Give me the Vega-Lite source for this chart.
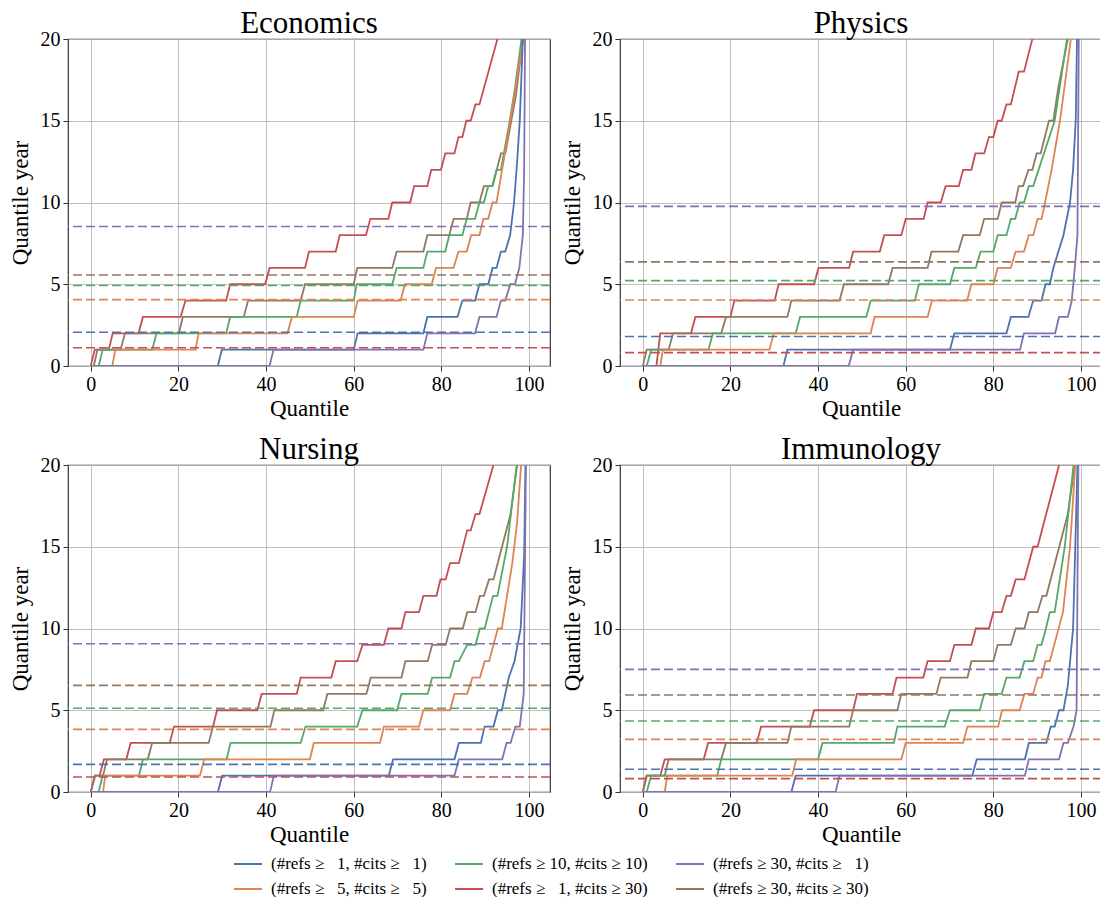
{
"$schema": "https://vega.github.io/schema/vega-lite/v6.json",
"padding": {"left": 8, "top": 7, "right": 0, "bottom": 0},
"background": "white",
"data": {"values": [
{"p":"Economics","s":"r","x":0,"y":0},{"p":"Economics","s":"r","x":0.9,"y":1},{"p":"Economics","s":"r","x":4.1,"y":1},{"p":"Economics","s":"r","x":5,"y":2},{"p":"Economics","s":"r","x":10.9,"y":2},{"p":"Economics","s":"r","x":11.9,"y":3},{"p":"Economics","s":"r","x":20.5,"y":3},{"p":"Economics","s":"r","x":21.6,"y":4},{"p":"Economics","s":"r","x":30.9,"y":4},{"p":"Economics","s":"r","x":31.8,"y":5},{"p":"Economics","s":"r","x":39.8,"y":5},{"p":"Economics","s":"r","x":40.8,"y":6},{"p":"Economics","s":"r","x":48.9,"y":6},{"p":"Economics","s":"r","x":49.8,"y":7},{"p":"Economics","s":"r","x":55.9,"y":7},{"p":"Economics","s":"r","x":56.8,"y":8},{"p":"Economics","s":"r","x":62.8,"y":8},{"p":"Economics","s":"r","x":63.8,"y":9},{"p":"Economics","s":"r","x":67.9,"y":9},{"p":"Economics","s":"r","x":68.8,"y":10},{"p":"Economics","s":"r","x":72.9,"y":10},{"p":"Economics","s":"r","x":73.8,"y":11},{"p":"Economics","s":"r","x":76.8,"y":11},{"p":"Economics","s":"r","x":77.7,"y":12},{"p":"Economics","s":"r","x":79.9,"y":12},{"p":"Economics","s":"r","x":80.9,"y":13},{"p":"Economics","s":"r","x":83,"y":13},{"p":"Economics","s":"r","x":83.9,"y":14},{"p":"Economics","s":"r","x":84.8,"y":14},{"p":"Economics","s":"r","x":85.7,"y":15},{"p":"Economics","s":"r","x":86.7,"y":15},{"p":"Economics","s":"r","x":87.8,"y":16},{"p":"Economics","s":"r","x":88.7,"y":16},{"p":"Economics","s":"r","x":92.8,"y":20},
{"p":"Economics","s":"n","x":0,"y":0},{"p":"Economics","s":"n","x":0.7,"y":0},{"p":"Economics","s":"n","x":1.5,"y":1},{"p":"Economics","s":"n","x":6.8,"y":1},{"p":"Economics","s":"n","x":7.8,"y":2},{"p":"Economics","s":"n","x":20.1,"y":2},{"p":"Economics","s":"n","x":21,"y":3},{"p":"Economics","s":"n","x":34.9,"y":3},{"p":"Economics","s":"n","x":35.9,"y":4},{"p":"Economics","s":"n","x":47.9,"y":4},{"p":"Economics","s":"n","x":48.9,"y":5},{"p":"Economics","s":"n","x":60,"y":5},{"p":"Economics","s":"n","x":60.8,"y":6},{"p":"Economics","s":"n","x":68.8,"y":6},{"p":"Economics","s":"n","x":69.8,"y":7},{"p":"Economics","s":"n","x":75.9,"y":7},{"p":"Economics","s":"n","x":76.8,"y":8},{"p":"Economics","s":"n","x":81.8,"y":8},{"p":"Economics","s":"n","x":82.8,"y":9},{"p":"Economics","s":"n","x":85.8,"y":9},{"p":"Economics","s":"n","x":86.7,"y":10},{"p":"Economics","s":"n","x":88.7,"y":10},{"p":"Economics","s":"n","x":89.7,"y":11},{"p":"Economics","s":"n","x":91.7,"y":11},{"p":"Economics","s":"n","x":93.6,"y":13},{"p":"Economics","s":"n","x":94.6,"y":13},{"p":"Economics","s":"n","x":97,"y":16.5},{"p":"Economics","s":"n","x":98.6,"y":20},
{"p":"Economics","s":"g","x":0,"y":0},{"p":"Economics","s":"g","x":1.8,"y":0},{"p":"Economics","s":"g","x":2.7,"y":1},{"p":"Economics","s":"g","x":14,"y":1},{"p":"Economics","s":"g","x":15,"y":2},{"p":"Economics","s":"g","x":30.9,"y":2},{"p":"Economics","s":"g","x":31.8,"y":3},{"p":"Economics","s":"g","x":47,"y":3},{"p":"Economics","s":"g","x":47.9,"y":4},{"p":"Economics","s":"g","x":60,"y":4},{"p":"Economics","s":"g","x":60.7,"y":5},{"p":"Economics","s":"g","x":68.8,"y":5},{"p":"Economics","s":"g","x":69.8,"y":6},{"p":"Economics","s":"g","x":75.9,"y":6},{"p":"Economics","s":"g","x":76.8,"y":7},{"p":"Economics","s":"g","x":80.9,"y":7},{"p":"Economics","s":"g","x":81.8,"y":8},{"p":"Economics","s":"g","x":84.8,"y":8},{"p":"Economics","s":"g","x":85.8,"y":9},{"p":"Economics","s":"g","x":87.7,"y":9},{"p":"Economics","s":"g","x":88.7,"y":10},{"p":"Economics","s":"g","x":89.7,"y":10},{"p":"Economics","s":"g","x":90.7,"y":11},{"p":"Economics","s":"g","x":91.6,"y":11},{"p":"Economics","s":"g","x":92.6,"y":12},{"p":"Economics","s":"g","x":93.6,"y":12},{"p":"Economics","s":"g","x":95.8,"y":15.3},{"p":"Economics","s":"g","x":96.8,"y":17},{"p":"Economics","s":"g","x":98.3,"y":20},
{"p":"Economics","s":"o","x":0,"y":0},{"p":"Economics","s":"o","x":4.9,"y":0},{"p":"Economics","s":"o","x":5.6,"y":1},{"p":"Economics","s":"o","x":23.9,"y":1},{"p":"Economics","s":"o","x":24.6,"y":2},{"p":"Economics","s":"o","x":44.9,"y":2},{"p":"Economics","s":"o","x":45.9,"y":3},{"p":"Economics","s":"o","x":60,"y":3},{"p":"Economics","s":"o","x":60.9,"y":4},{"p":"Economics","s":"o","x":70.7,"y":4},{"p":"Economics","s":"o","x":71.7,"y":5},{"p":"Economics","s":"o","x":77.8,"y":5},{"p":"Economics","s":"o","x":78.8,"y":6},{"p":"Economics","s":"o","x":82.8,"y":6},{"p":"Economics","s":"o","x":83.9,"y":7},{"p":"Economics","s":"o","x":85.8,"y":7},{"p":"Economics","s":"o","x":86.8,"y":8},{"p":"Economics","s":"o","x":88.7,"y":8},{"p":"Economics","s":"o","x":89.6,"y":9},{"p":"Economics","s":"o","x":90.7,"y":9},{"p":"Economics","s":"o","x":91.7,"y":10},{"p":"Economics","s":"o","x":92.6,"y":10},{"p":"Economics","s":"o","x":94.5,"y":13},{"p":"Economics","s":"o","x":96,"y":15.5},{"p":"Economics","s":"o","x":97.5,"y":18},{"p":"Economics","s":"o","x":98.7,"y":20},
{"p":"Economics","s":"b","x":0,"y":0},{"p":"Economics","s":"b","x":29,"y":0},{"p":"Economics","s":"b","x":29.9,"y":1},{"p":"Economics","s":"b","x":60,"y":1},{"p":"Economics","s":"b","x":60.9,"y":2},{"p":"Economics","s":"b","x":75.9,"y":2},{"p":"Economics","s":"b","x":76.8,"y":3},{"p":"Economics","s":"b","x":83.7,"y":3},{"p":"Economics","s":"b","x":84.8,"y":4},{"p":"Economics","s":"b","x":87.7,"y":4},{"p":"Economics","s":"b","x":88.7,"y":5},{"p":"Economics","s":"b","x":90.7,"y":5},{"p":"Economics","s":"b","x":91.7,"y":6},{"p":"Economics","s":"b","x":92.6,"y":6},{"p":"Economics","s":"b","x":93.6,"y":7},{"p":"Economics","s":"b","x":94.6,"y":7},{"p":"Economics","s":"b","x":95.7,"y":8},{"p":"Economics","s":"b","x":96.6,"y":10},{"p":"Economics","s":"b","x":97.3,"y":12.5},{"p":"Economics","s":"b","x":97.9,"y":15},{"p":"Economics","s":"b","x":98.6,"y":20},
{"p":"Economics","s":"p","x":0,"y":0},{"p":"Economics","s":"p","x":40.8,"y":0},{"p":"Economics","s":"p","x":41.7,"y":1},{"p":"Economics","s":"p","x":75.9,"y":1},{"p":"Economics","s":"p","x":76.8,"y":2},{"p":"Economics","s":"p","x":87.7,"y":2},{"p":"Economics","s":"p","x":88.7,"y":3},{"p":"Economics","s":"p","x":92.6,"y":3},{"p":"Economics","s":"p","x":93.6,"y":4},{"p":"Economics","s":"p","x":94.6,"y":4},{"p":"Economics","s":"p","x":95.7,"y":5},{"p":"Economics","s":"p","x":96.8,"y":5},{"p":"Economics","s":"p","x":97.8,"y":6},{"p":"Economics","s":"p","x":98.6,"y":8},{"p":"Economics","s":"p","x":98.9,"y":12},{"p":"Economics","s":"p","x":99.1,"y":20},
{"p":"Physics","s":"r","x":0,"y":0},{"p":"Physics","s":"r","x":3.1,"y":0},{"p":"Physics","s":"r","x":4,"y":2},{"p":"Physics","s":"r","x":11,"y":2},{"p":"Physics","s":"r","x":12,"y":3},{"p":"Physics","s":"r","x":20,"y":3},{"p":"Physics","s":"r","x":20.9,"y":4},{"p":"Physics","s":"r","x":30.1,"y":4},{"p":"Physics","s":"r","x":31,"y":5},{"p":"Physics","s":"r","x":39.1,"y":5},{"p":"Physics","s":"r","x":40.1,"y":6},{"p":"Physics","s":"r","x":47.1,"y":6},{"p":"Physics","s":"r","x":48,"y":7},{"p":"Physics","s":"r","x":54.1,"y":7},{"p":"Physics","s":"r","x":55.1,"y":8},{"p":"Physics","s":"r","x":59,"y":8},{"p":"Physics","s":"r","x":60,"y":9},{"p":"Physics","s":"r","x":64.1,"y":9},{"p":"Physics","s":"r","x":65,"y":10},{"p":"Physics","s":"r","x":68,"y":10},{"p":"Physics","s":"r","x":69.1,"y":11},{"p":"Physics","s":"r","x":72.1,"y":11},{"p":"Physics","s":"r","x":73.1,"y":12},{"p":"Physics","s":"r","x":75,"y":12},{"p":"Physics","s":"r","x":75.9,"y":13},{"p":"Physics","s":"r","x":77.9,"y":13},{"p":"Physics","s":"r","x":79,"y":14},{"p":"Physics","s":"r","x":80,"y":14},{"p":"Physics","s":"r","x":81,"y":15},{"p":"Physics","s":"r","x":81.9,"y":15},{"p":"Physics","s":"r","x":83,"y":16},{"p":"Physics","s":"r","x":84,"y":16},{"p":"Physics","s":"r","x":85.8,"y":18},{"p":"Physics","s":"r","x":87,"y":18},{"p":"Physics","s":"r","x":88.9,"y":20},
{"p":"Physics","s":"n","x":0,"y":0},{"p":"Physics","s":"n","x":0.9,"y":1},{"p":"Physics","s":"n","x":5.9,"y":1},{"p":"Physics","s":"n","x":6.9,"y":2},{"p":"Physics","s":"n","x":17.9,"y":2},{"p":"Physics","s":"n","x":19,"y":3},{"p":"Physics","s":"n","x":33,"y":3},{"p":"Physics","s":"n","x":33.9,"y":4},{"p":"Physics","s":"n","x":44.9,"y":4},{"p":"Physics","s":"n","x":45.9,"y":5},{"p":"Physics","s":"n","x":56,"y":5},{"p":"Physics","s":"n","x":57,"y":6},{"p":"Physics","s":"n","x":65,"y":6},{"p":"Physics","s":"n","x":65.9,"y":7},{"p":"Physics","s":"n","x":72,"y":7},{"p":"Physics","s":"n","x":73.1,"y":8},{"p":"Physics","s":"n","x":76.9,"y":8},{"p":"Physics","s":"n","x":77.9,"y":9},{"p":"Physics","s":"n","x":81,"y":9},{"p":"Physics","s":"n","x":81.9,"y":10},{"p":"Physics","s":"n","x":85,"y":10},{"p":"Physics","s":"n","x":85.8,"y":11},{"p":"Physics","s":"n","x":86.8,"y":11},{"p":"Physics","s":"n","x":88,"y":12},{"p":"Physics","s":"n","x":88.9,"y":12},{"p":"Physics","s":"n","x":89.9,"y":13},{"p":"Physics","s":"n","x":90.8,"y":13},{"p":"Physics","s":"n","x":92.7,"y":15},{"p":"Physics","s":"n","x":93.7,"y":15},{"p":"Physics","s":"n","x":94.8,"y":17},{"p":"Physics","s":"n","x":97,"y":20},
{"p":"Physics","s":"g","x":0,"y":0},{"p":"Physics","s":"g","x":0.9,"y":0},{"p":"Physics","s":"g","x":1.9,"y":1},{"p":"Physics","s":"g","x":15,"y":1},{"p":"Physics","s":"g","x":16,"y":2},{"p":"Physics","s":"g","x":34.9,"y":2},{"p":"Physics","s":"g","x":35.9,"y":3},{"p":"Physics","s":"g","x":51,"y":3},{"p":"Physics","s":"g","x":52,"y":4},{"p":"Physics","s":"g","x":62.1,"y":4},{"p":"Physics","s":"g","x":63,"y":5},{"p":"Physics","s":"g","x":70.1,"y":5},{"p":"Physics","s":"g","x":71.1,"y":6},{"p":"Physics","s":"g","x":76,"y":6},{"p":"Physics","s":"g","x":77.1,"y":7},{"p":"Physics","s":"g","x":80,"y":7},{"p":"Physics","s":"g","x":81,"y":8},{"p":"Physics","s":"g","x":83,"y":8},{"p":"Physics","s":"g","x":84,"y":9},{"p":"Physics","s":"g","x":85,"y":9},{"p":"Physics","s":"g","x":86,"y":10},{"p":"Physics","s":"g","x":87,"y":10},{"p":"Physics","s":"g","x":88.1,"y":11},{"p":"Physics","s":"g","x":89.1,"y":11},{"p":"Physics","s":"g","x":94,"y":15},{"p":"Physics","s":"g","x":96.8,"y":20},
{"p":"Physics","s":"o","x":0,"y":0},{"p":"Physics","s":"o","x":4,"y":0},{"p":"Physics","s":"o","x":4.6,"y":1},{"p":"Physics","s":"o","x":28.9,"y":1},{"p":"Physics","s":"o","x":29.9,"y":2},{"p":"Physics","s":"o","x":52,"y":2},{"p":"Physics","s":"o","x":52.9,"y":3},{"p":"Physics","s":"o","x":65,"y":3},{"p":"Physics","s":"o","x":66,"y":4},{"p":"Physics","s":"o","x":74,"y":4},{"p":"Physics","s":"o","x":75,"y":5},{"p":"Physics","s":"o","x":80,"y":5},{"p":"Physics","s":"o","x":81,"y":6},{"p":"Physics","s":"o","x":84,"y":6},{"p":"Physics","s":"o","x":85.1,"y":7},{"p":"Physics","s":"o","x":87,"y":7},{"p":"Physics","s":"o","x":88.1,"y":8},{"p":"Physics","s":"o","x":89.1,"y":8},{"p":"Physics","s":"o","x":90.1,"y":9},{"p":"Physics","s":"o","x":91,"y":9},{"p":"Physics","s":"o","x":91.8,"y":10},{"p":"Physics","s":"o","x":93.3,"y":12},{"p":"Physics","s":"o","x":95.2,"y":15},{"p":"Physics","s":"o","x":97.7,"y":20},
{"p":"Physics","s":"b","x":0,"y":0},{"p":"Physics","s":"b","x":32.1,"y":0},{"p":"Physics","s":"b","x":33,"y":1},{"p":"Physics","s":"b","x":70.1,"y":1},{"p":"Physics","s":"b","x":71.1,"y":2},{"p":"Physics","s":"b","x":83,"y":2},{"p":"Physics","s":"b","x":84,"y":3},{"p":"Physics","s":"b","x":88,"y":3},{"p":"Physics","s":"b","x":89.1,"y":4},{"p":"Physics","s":"b","x":91,"y":4},{"p":"Physics","s":"b","x":91.9,"y":5},{"p":"Physics","s":"b","x":92.9,"y":5},{"p":"Physics","s":"b","x":93.7,"y":6},{"p":"Physics","s":"b","x":96,"y":8},{"p":"Physics","s":"b","x":97.5,"y":10},{"p":"Physics","s":"b","x":98.2,"y":12},{"p":"Physics","s":"b","x":98.8,"y":15},{"p":"Physics","s":"b","x":99.1,"y":20},
{"p":"Physics","s":"p","x":0,"y":0},{"p":"Physics","s":"p","x":47,"y":0},{"p":"Physics","s":"p","x":48,"y":1},{"p":"Physics","s":"p","x":86.1,"y":1},{"p":"Physics","s":"p","x":87,"y":2},{"p":"Physics","s":"p","x":94.1,"y":2},{"p":"Physics","s":"p","x":95,"y":3},{"p":"Physics","s":"p","x":97,"y":3},{"p":"Physics","s":"p","x":97.9,"y":4},{"p":"Physics","s":"p","x":98.6,"y":6},{"p":"Physics","s":"p","x":99.2,"y":8},{"p":"Physics","s":"p","x":99.5,"y":20},
{"p":"Nursing","s":"r","x":0,"y":0},{"p":"Nursing","s":"r","x":1,"y":1},{"p":"Nursing","s":"r","x":2,"y":1},{"p":"Nursing","s":"r","x":3,"y":2},{"p":"Nursing","s":"r","x":8.1,"y":2},{"p":"Nursing","s":"r","x":9.1,"y":3},{"p":"Nursing","s":"r","x":18,"y":3},{"p":"Nursing","s":"r","x":19,"y":4},{"p":"Nursing","s":"r","x":27.9,"y":4},{"p":"Nursing","s":"r","x":28.8,"y":5},{"p":"Nursing","s":"r","x":38,"y":5},{"p":"Nursing","s":"r","x":39,"y":6},{"p":"Nursing","s":"r","x":47,"y":6},{"p":"Nursing","s":"r","x":47.9,"y":7},{"p":"Nursing","s":"r","x":54.9,"y":7},{"p":"Nursing","s":"r","x":55.9,"y":8},{"p":"Nursing","s":"r","x":60.8,"y":8},{"p":"Nursing","s":"r","x":62,"y":9},{"p":"Nursing","s":"r","x":66.9,"y":9},{"p":"Nursing","s":"r","x":67.9,"y":10},{"p":"Nursing","s":"r","x":70.9,"y":10},{"p":"Nursing","s":"r","x":71.8,"y":11},{"p":"Nursing","s":"r","x":74.9,"y":11},{"p":"Nursing","s":"r","x":75.9,"y":12},{"p":"Nursing","s":"r","x":78.9,"y":12},{"p":"Nursing","s":"r","x":79.8,"y":13},{"p":"Nursing","s":"r","x":81,"y":13},{"p":"Nursing","s":"r","x":82,"y":14},{"p":"Nursing","s":"r","x":84,"y":14},{"p":"Nursing","s":"r","x":85.9,"y":16},{"p":"Nursing","s":"r","x":86.7,"y":16},{"p":"Nursing","s":"r","x":87.8,"y":17},{"p":"Nursing","s":"r","x":88.7,"y":17},{"p":"Nursing","s":"r","x":91.9,"y":20},
{"p":"Nursing","s":"n","x":0,"y":0},{"p":"Nursing","s":"n","x":0.9,"y":1},{"p":"Nursing","s":"n","x":2.8,"y":1},{"p":"Nursing","s":"n","x":3.7,"y":2},{"p":"Nursing","s":"n","x":13,"y":2},{"p":"Nursing","s":"n","x":14,"y":3},{"p":"Nursing","s":"n","x":26.9,"y":3},{"p":"Nursing","s":"n","x":27.9,"y":4},{"p":"Nursing","s":"n","x":41,"y":4},{"p":"Nursing","s":"n","x":41.9,"y":5},{"p":"Nursing","s":"n","x":53,"y":5},{"p":"Nursing","s":"n","x":54,"y":6},{"p":"Nursing","s":"n","x":62.9,"y":6},{"p":"Nursing","s":"n","x":63.9,"y":7},{"p":"Nursing","s":"n","x":70.9,"y":7},{"p":"Nursing","s":"n","x":71.8,"y":8},{"p":"Nursing","s":"n","x":76.9,"y":8},{"p":"Nursing","s":"n","x":77.9,"y":9},{"p":"Nursing","s":"n","x":81,"y":9},{"p":"Nursing","s":"n","x":82,"y":10},{"p":"Nursing","s":"n","x":84.9,"y":10},{"p":"Nursing","s":"n","x":85.9,"y":11},{"p":"Nursing","s":"n","x":87.8,"y":11},{"p":"Nursing","s":"n","x":88.8,"y":12},{"p":"Nursing","s":"n","x":89.7,"y":12},{"p":"Nursing","s":"n","x":90.9,"y":13},{"p":"Nursing","s":"n","x":91.9,"y":13},{"p":"Nursing","s":"n","x":95.8,"y":17},{"p":"Nursing","s":"n","x":97.3,"y":20},
{"p":"Nursing","s":"g","x":0,"y":0},{"p":"Nursing","s":"g","x":1.8,"y":0},{"p":"Nursing","s":"g","x":2.7,"y":1},{"p":"Nursing","s":"g","x":11,"y":1},{"p":"Nursing","s":"g","x":11.9,"y":2},{"p":"Nursing","s":"g","x":31,"y":2},{"p":"Nursing","s":"g","x":31.9,"y":3},{"p":"Nursing","s":"g","x":47.9,"y":3},{"p":"Nursing","s":"g","x":49,"y":4},{"p":"Nursing","s":"g","x":60.8,"y":4},{"p":"Nursing","s":"g","x":62,"y":5},{"p":"Nursing","s":"g","x":69.9,"y":5},{"p":"Nursing","s":"g","x":70.9,"y":6},{"p":"Nursing","s":"g","x":76.9,"y":6},{"p":"Nursing","s":"g","x":77.9,"y":7},{"p":"Nursing","s":"g","x":82,"y":7},{"p":"Nursing","s":"g","x":83,"y":8},{"p":"Nursing","s":"g","x":84,"y":8},{"p":"Nursing","s":"g","x":85.9,"y":9},{"p":"Nursing","s":"g","x":87.8,"y":9},{"p":"Nursing","s":"g","x":88.8,"y":10},{"p":"Nursing","s":"g","x":89.9,"y":10},{"p":"Nursing","s":"g","x":91.8,"y":12},{"p":"Nursing","s":"g","x":92.8,"y":12},{"p":"Nursing","s":"g","x":95,"y":15},{"p":"Nursing","s":"g","x":97.2,"y":20},
{"p":"Nursing","s":"o","x":0,"y":0},{"p":"Nursing","s":"o","x":2.8,"y":0},{"p":"Nursing","s":"o","x":3.3,"y":1},{"p":"Nursing","s":"o","x":24.9,"y":1},{"p":"Nursing","s":"o","x":25.9,"y":2},{"p":"Nursing","s":"o","x":50,"y":2},{"p":"Nursing","s":"o","x":50.9,"y":3},{"p":"Nursing","s":"o","x":66,"y":3},{"p":"Nursing","s":"o","x":66.9,"y":4},{"p":"Nursing","s":"o","x":74.9,"y":4},{"p":"Nursing","s":"o","x":75.9,"y":5},{"p":"Nursing","s":"o","x":82,"y":5},{"p":"Nursing","s":"o","x":83,"y":6},{"p":"Nursing","s":"o","x":85.9,"y":6},{"p":"Nursing","s":"o","x":87.1,"y":7},{"p":"Nursing","s":"o","x":88.8,"y":7},{"p":"Nursing","s":"o","x":89.9,"y":8},{"p":"Nursing","s":"o","x":90.9,"y":8},{"p":"Nursing","s":"o","x":91.9,"y":9},{"p":"Nursing","s":"o","x":92.9,"y":10},{"p":"Nursing","s":"o","x":93.8,"y":10},{"p":"Nursing","s":"o","x":96.2,"y":14},{"p":"Nursing","s":"o","x":97.3,"y":16.5},{"p":"Nursing","s":"o","x":98.2,"y":20},
{"p":"Nursing","s":"b","x":0,"y":0},{"p":"Nursing","s":"b","x":29,"y":0},{"p":"Nursing","s":"b","x":30,"y":1},{"p":"Nursing","s":"b","x":68,"y":1},{"p":"Nursing","s":"b","x":69,"y":2},{"p":"Nursing","s":"b","x":83,"y":2},{"p":"Nursing","s":"b","x":84,"y":3},{"p":"Nursing","s":"b","x":89,"y":3},{"p":"Nursing","s":"b","x":89.9,"y":4},{"p":"Nursing","s":"b","x":91.9,"y":4},{"p":"Nursing","s":"b","x":92.9,"y":5},{"p":"Nursing","s":"b","x":93.8,"y":5},{"p":"Nursing","s":"b","x":95.4,"y":7},{"p":"Nursing","s":"b","x":96.7,"y":8},{"p":"Nursing","s":"b","x":98.1,"y":10},{"p":"Nursing","s":"b","x":98.9,"y":14.5},{"p":"Nursing","s":"b","x":99.2,"y":20},
{"p":"Nursing","s":"p","x":0,"y":0},{"p":"Nursing","s":"p","x":40.9,"y":0},{"p":"Nursing","s":"p","x":41.8,"y":1},{"p":"Nursing","s":"p","x":83,"y":1},{"p":"Nursing","s":"p","x":84,"y":2},{"p":"Nursing","s":"p","x":93.9,"y":2},{"p":"Nursing","s":"p","x":94.9,"y":3},{"p":"Nursing","s":"p","x":95.8,"y":3},{"p":"Nursing","s":"p","x":96.9,"y":4},{"p":"Nursing","s":"p","x":97.9,"y":4},{"p":"Nursing","s":"p","x":98.8,"y":6},{"p":"Nursing","s":"p","x":99.3,"y":20},
{"p":"Immunology","s":"r","x":0,"y":0},{"p":"Immunology","s":"r","x":0.9,"y":1},{"p":"Immunology","s":"r","x":4,"y":1},{"p":"Immunology","s":"r","x":5,"y":2},{"p":"Immunology","s":"r","x":13.9,"y":2},{"p":"Immunology","s":"r","x":14.9,"y":3},{"p":"Immunology","s":"r","x":26,"y":3},{"p":"Immunology","s":"r","x":27,"y":4},{"p":"Immunology","s":"r","x":38.1,"y":4},{"p":"Immunology","s":"r","x":39.1,"y":5},{"p":"Immunology","s":"r","x":48,"y":5},{"p":"Immunology","s":"r","x":48.9,"y":6},{"p":"Immunology","s":"r","x":57,"y":6},{"p":"Immunology","s":"r","x":57.9,"y":7},{"p":"Immunology","s":"r","x":64,"y":7},{"p":"Immunology","s":"r","x":65,"y":8},{"p":"Immunology","s":"r","x":70.1,"y":8},{"p":"Immunology","s":"r","x":71.1,"y":9},{"p":"Immunology","s":"r","x":75,"y":9},{"p":"Immunology","s":"r","x":76,"y":10},{"p":"Immunology","s":"r","x":79,"y":10},{"p":"Immunology","s":"r","x":80,"y":11},{"p":"Immunology","s":"r","x":81.9,"y":11},{"p":"Immunology","s":"r","x":83,"y":12},{"p":"Immunology","s":"r","x":84,"y":12},{"p":"Immunology","s":"r","x":85.1,"y":13},{"p":"Immunology","s":"r","x":87.1,"y":13},{"p":"Immunology","s":"r","x":89.1,"y":15},{"p":"Immunology","s":"r","x":90.1,"y":15},{"p":"Immunology","s":"r","x":95,"y":20},
{"p":"Immunology","s":"n","x":0,"y":0},{"p":"Immunology","s":"n","x":0.9,"y":1},{"p":"Immunology","s":"n","x":5,"y":1},{"p":"Immunology","s":"n","x":5.9,"y":2},{"p":"Immunology","s":"n","x":17.9,"y":2},{"p":"Immunology","s":"n","x":19,"y":3},{"p":"Immunology","s":"n","x":33,"y":3},{"p":"Immunology","s":"n","x":33.9,"y":4},{"p":"Immunology","s":"n","x":47.1,"y":4},{"p":"Immunology","s":"n","x":48,"y":5},{"p":"Immunology","s":"n","x":58.1,"y":5},{"p":"Immunology","s":"n","x":59,"y":6},{"p":"Immunology","s":"n","x":67,"y":6},{"p":"Immunology","s":"n","x":68,"y":7},{"p":"Immunology","s":"n","x":74.1,"y":7},{"p":"Immunology","s":"n","x":75,"y":8},{"p":"Immunology","s":"n","x":80,"y":8},{"p":"Immunology","s":"n","x":81,"y":9},{"p":"Immunology","s":"n","x":84,"y":9},{"p":"Immunology","s":"n","x":85.1,"y":10},{"p":"Immunology","s":"n","x":87.1,"y":10},{"p":"Immunology","s":"n","x":88.1,"y":11},{"p":"Immunology","s":"n","x":90.1,"y":11},{"p":"Immunology","s":"n","x":91.2,"y":12},{"p":"Immunology","s":"n","x":92.1,"y":12},{"p":"Immunology","s":"n","x":97,"y":17},{"p":"Immunology","s":"n","x":98.6,"y":20},
{"p":"Immunology","s":"g","x":0,"y":0},{"p":"Immunology","s":"g","x":0.9,"y":0},{"p":"Immunology","s":"g","x":1.9,"y":1},{"p":"Immunology","s":"g","x":17,"y":1},{"p":"Immunology","s":"g","x":17.9,"y":2},{"p":"Immunology","s":"g","x":40,"y":2},{"p":"Immunology","s":"g","x":41,"y":3},{"p":"Immunology","s":"g","x":57.3,"y":3},{"p":"Immunology","s":"g","x":58.1,"y":4},{"p":"Immunology","s":"g","x":68.9,"y":4},{"p":"Immunology","s":"g","x":70.1,"y":5},{"p":"Immunology","s":"g","x":76.9,"y":5},{"p":"Immunology","s":"g","x":77.9,"y":6},{"p":"Immunology","s":"g","x":81.9,"y":6},{"p":"Immunology","s":"g","x":83,"y":7},{"p":"Immunology","s":"g","x":86,"y":7},{"p":"Immunology","s":"g","x":87.1,"y":8},{"p":"Immunology","s":"g","x":89.1,"y":8},{"p":"Immunology","s":"g","x":90.1,"y":9},{"p":"Immunology","s":"g","x":91,"y":9},{"p":"Immunology","s":"g","x":92,"y":10},{"p":"Immunology","s":"g","x":92.9,"y":11},{"p":"Immunology","s":"g","x":94,"y":11},{"p":"Immunology","s":"g","x":96.3,"y":15},{"p":"Immunology","s":"g","x":98.3,"y":20},
{"p":"Immunology","s":"o","x":0,"y":0},{"p":"Immunology","s":"o","x":5,"y":0},{"p":"Immunology","s":"o","x":5.6,"y":1},{"p":"Immunology","s":"o","x":34.1,"y":1},{"p":"Immunology","s":"o","x":35,"y":2},{"p":"Immunology","s":"o","x":59,"y":2},{"p":"Immunology","s":"o","x":60,"y":3},{"p":"Immunology","s":"o","x":73.1,"y":3},{"p":"Immunology","s":"o","x":74.1,"y":4},{"p":"Immunology","s":"o","x":81.1,"y":4},{"p":"Immunology","s":"o","x":82,"y":5},{"p":"Immunology","s":"o","x":86,"y":5},{"p":"Immunology","s":"o","x":87.1,"y":6},{"p":"Immunology","s":"o","x":89.1,"y":6},{"p":"Immunology","s":"o","x":90.1,"y":7},{"p":"Immunology","s":"o","x":91,"y":7},{"p":"Immunology","s":"o","x":91.9,"y":8},{"p":"Immunology","s":"o","x":92.9,"y":8},{"p":"Immunology","s":"o","x":95.9,"y":11},{"p":"Immunology","s":"o","x":97.5,"y":15},{"p":"Immunology","s":"o","x":98.7,"y":20},
{"p":"Immunology","s":"b","x":0,"y":0},{"p":"Immunology","s":"b","x":33.9,"y":0},{"p":"Immunology","s":"b","x":34.9,"y":1},{"p":"Immunology","s":"b","x":75.2,"y":1},{"p":"Immunology","s":"b","x":76.2,"y":2},{"p":"Immunology","s":"b","x":87.2,"y":2},{"p":"Immunology","s":"b","x":88.1,"y":3},{"p":"Immunology","s":"b","x":92.1,"y":3},{"p":"Immunology","s":"b","x":93.1,"y":4},{"p":"Immunology","s":"b","x":94,"y":4},{"p":"Immunology","s":"b","x":95,"y":5},{"p":"Immunology","s":"b","x":96,"y":5},{"p":"Immunology","s":"b","x":97,"y":6.5},{"p":"Immunology","s":"b","x":98.2,"y":10},{"p":"Immunology","s":"b","x":99.2,"y":20},
{"p":"Immunology","s":"p","x":0,"y":0},{"p":"Immunology","s":"p","x":44,"y":0},{"p":"Immunology","s":"p","x":44.9,"y":1},{"p":"Immunology","s":"p","x":87.2,"y":1},{"p":"Immunology","s":"p","x":88.1,"y":2},{"p":"Immunology","s":"p","x":95,"y":2},{"p":"Immunology","s":"p","x":96,"y":3},{"p":"Immunology","s":"p","x":97,"y":3},{"p":"Immunology","s":"p","x":98.3,"y":4},{"p":"Immunology","s":"p","x":99,"y":5},{"p":"Immunology","s":"p","x":99.4,"y":20},
{"p":"Economics","s":"p","m":8.53},{"p":"Economics","s":"n","m":5.57},{"p":"Economics","s":"g","m":4.92},{"p":"Economics","s":"o","m":4.06},{"p":"Economics","s":"b","m":2.06},{"p":"Economics","s":"r","m":1.12},
{"p":"Physics","s":"p","m":9.76},{"p":"Physics","s":"n","m":6.37},{"p":"Physics","s":"g","m":5.22},{"p":"Physics","s":"o","m":4.04},{"p":"Physics","s":"b","m":1.8},{"p":"Physics","s":"r","m":0.82},
{"p":"Nursing","s":"p","m":9.07},{"p":"Nursing","s":"n","m":6.52},{"p":"Nursing","s":"g","m":5.12},{"p":"Nursing","s":"o","m":3.83},{"p":"Nursing","s":"b","m":1.69},{"p":"Nursing","s":"r","m":0.92},
{"p":"Immunology","s":"p","m":7.5},{"p":"Immunology","s":"n","m":5.93},{"p":"Immunology","s":"g","m":4.34},{"p":"Immunology","s":"o","m":3.22},{"p":"Immunology","s":"b","m":1.39},{"p":"Immunology","s":"r","m":0.82}
]},
"columns": 2,
"spacing": {"row": 12, "column": 8},
"resolve": {"scale": {"color": "shared"}, "legend": {"color": "shared"}},
"concat": [
{"title": "Economics", "width": 482, "height": 327, "transform": [{"filter": "datum.p == 'Economics'"}],
 "layer": [
  {"transform": [{"filter": "isValid(datum.x)"}], "mark": {"type": "line", "strokeWidth": 1.8, "clip": true},
   "encoding": {"x": {"field": "x", "type": "quantitative", "scale": {"domain": [-5.2, 104.8], "nice": false, "zero": false}, "axis": {"values": [0, 20, 40, 60, 80, 100], "title": "Quantile"}},
    "y": {"field": "y", "type": "quantitative", "scale": {"domain": [0, 20], "nice": false}, "axis": {"values": [0, 5, 10, 15, 20], "title": "Quantile year"}},
    "color": {"field": "s", "type": "nominal", "scale": {"domain": ["b", "o", "g", "r", "p", "n"], "range": ["#4c72b0", "#dd8452", "#55a868", "#c44e52", "#8172b3", "#937860"]},
     "legend": {"orient": "none", "legendX": 165, "legendY": 810, "columns": 3, "title": null,
      "labelExpr": "datum.label == 'b' ? '(#refs ≥ \u20071, #cits ≥ \u20071)' : datum.label == 'g' ? '(#refs ≥ 10, #cits ≥ 10)' : datum.label == 'p' ? '(#refs ≥ 30, #cits ≥ \u20071)' : datum.label == 'o' ? '(#refs ≥ \u20075, #cits ≥ \u20075)' : datum.label == 'r' ? '(#refs ≥ \u20071, #cits ≥ 30)' : '(#refs ≥ 30, #cits ≥ 30)'"}}}},
  {"transform": [{"filter": "isValid(datum.m)"}], "mark": {"type": "rule", "strokeWidth": 1.6, "strokeDash": [9, 4]},
   "encoding": {"y": {"field": "m", "type": "quantitative"}, "color": {"field": "s", "type": "nominal"}}}
 ]},
{"title": "Physics", "width": 482, "height": 327, "transform": [{"filter": "datum.p == 'Physics'"}],
 "layer": [
  {"transform": [{"filter": "isValid(datum.x)"}], "mark": {"type": "line", "strokeWidth": 1.8, "clip": true},
   "encoding": {"x": {"field": "x", "type": "quantitative", "scale": {"domain": [-5.2, 104.8], "nice": false, "zero": false}, "axis": {"values": [0, 20, 40, 60, 80, 100], "title": "Quantile"}},
    "y": {"field": "y", "type": "quantitative", "scale": {"domain": [0, 20], "nice": false}, "axis": {"values": [0, 5, 10, 15, 20], "title": "Quantile year"}},
    "color": {"field": "s", "type": "nominal"}}},
  {"transform": [{"filter": "isValid(datum.m)"}], "mark": {"type": "rule", "strokeWidth": 1.6, "strokeDash": [9, 4]},
   "encoding": {"y": {"field": "m", "type": "quantitative"}, "color": {"field": "s", "type": "nominal"}}}
 ]},
{"title": "Nursing", "width": 482, "height": 327, "transform": [{"filter": "datum.p == 'Nursing'"}],
 "layer": [
  {"transform": [{"filter": "isValid(datum.x)"}], "mark": {"type": "line", "strokeWidth": 1.8, "clip": true},
   "encoding": {"x": {"field": "x", "type": "quantitative", "scale": {"domain": [-5.2, 104.8], "nice": false, "zero": false}, "axis": {"values": [0, 20, 40, 60, 80, 100], "title": "Quantile"}},
    "y": {"field": "y", "type": "quantitative", "scale": {"domain": [0, 20], "nice": false}, "axis": {"values": [0, 5, 10, 15, 20], "title": "Quantile year"}},
    "color": {"field": "s", "type": "nominal"}}},
  {"transform": [{"filter": "isValid(datum.m)"}], "mark": {"type": "rule", "strokeWidth": 1.6, "strokeDash": [9, 4]},
   "encoding": {"y": {"field": "m", "type": "quantitative"}, "color": {"field": "s", "type": "nominal"}}}
 ]},
{"title": "Immunology", "width": 482, "height": 327, "transform": [{"filter": "datum.p == 'Immunology'"}],
 "layer": [
  {"transform": [{"filter": "isValid(datum.x)"}], "mark": {"type": "line", "strokeWidth": 1.8, "clip": true},
   "encoding": {"x": {"field": "x", "type": "quantitative", "scale": {"domain": [-5.2, 104.8], "nice": false, "zero": false}, "axis": {"values": [0, 20, 40, 60, 80, 100], "title": "Quantile"}},
    "y": {"field": "y", "type": "quantitative", "scale": {"domain": [0, 20], "nice": false}, "axis": {"values": [0, 5, 10, 15, 20], "title": "Quantile year"}},
    "color": {"field": "s", "type": "nominal"}}},
  {"transform": [{"filter": "isValid(datum.m)"}], "mark": {"type": "rule", "strokeWidth": 1.6, "strokeDash": [9, 4]},
   "encoding": {"y": {"field": "m", "type": "quantitative"}, "color": {"field": "s", "type": "nominal"}}}
 ]}
],
"config": {
  "font": "Liberation Serif",
  "view": {"stroke": "#333333", "strokeWidth": 1.2},
  "title": {"font": "Liberation Serif", "fontSize": 31, "fontWeight": "normal", "color": "#000000", "anchor": "middle", "frame": "group", "offset": -11, "baseline": "alphabetic"},
  "axis": {"labelFont": "Liberation Serif", "labelFontSize": 20, "labelColor": "#000000", "titleFont": "Liberation Serif", "titleFontSize": 23, "titleFontWeight": "normal", "titleColor": "#000000", "gridColor": "#b8b8b8", "gridWidth": 0.9, "domain": false, "tickColor": "#333333", "tickSize": 5, "labelPadding": 3, "labelFlush": false, "labelOverlap": false},
  "axisY": {"titlePadding": 8},
  "axisX": {"titlePadding": 3},
  "legend": {"symbolType": "stroke", "symbolSize": 784, "symbolStrokeWidth": 2, "labelFont": "Liberation Serif", "labelFontSize": 17, "labelColor": "#000000", "columnPadding": 24, "rowPadding": 2, "labelOffset": 8, "padding": 0}
}
}
